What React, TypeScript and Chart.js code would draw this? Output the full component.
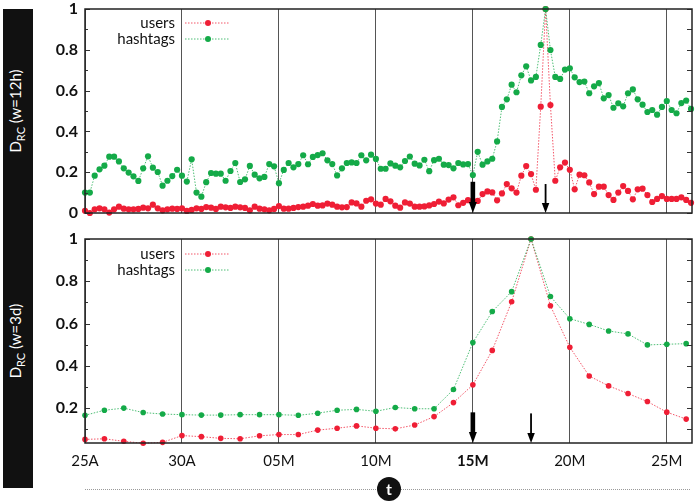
import React, { useEffect, useRef } from "react";
import { Chart, registerables } from "chart.js";
Chart.register(...registerables);

// ---------- data ----------
const dayTicks = [0, 5, 10, 15, 20, 25, 30];
const dayLabels = ["25A", "30A", "05M", "10M", "15M", "20M", "25M"];
const boldDay = 20;
const xMax = 31.3;

const step12h = 0.25; // one sample every 6 hours
const users12h = [
  0.011, 0.0, 0.018, 0.023, 0.018, 0.002, 0.018, 0.031, 0.021, 0.018,
  0.018, 0.02, 0.026, 0.023, 0.041, 0.023, 0.013, 0.018, 0.021, 0.02,
  0.023, 0.01, 0.015, 0.023, 0.02, 0.029, 0.026, 0.02, 0.031, 0.028,
  0.025, 0.031, 0.028, 0.025, 0.013, 0.031, 0.021, 0.018, 0.013, 0.02,
  0.034, 0.021, 0.021, 0.025, 0.029, 0.031, 0.036, 0.044, 0.036, 0.037,
  0.046, 0.041, 0.031, 0.028, 0.029, 0.052, 0.047, 0.031, 0.06, 0.067,
  0.046, 0.041, 0.069, 0.057, 0.036, 0.026, 0.052, 0.046, 0.031, 0.031,
  0.032, 0.037, 0.044, 0.056, 0.047, 0.066, 0.077, 0.038, 0.05, 0.063,
  0.058, 0.059, 0.093, 0.106, 0.101, 0.062, 0.096, 0.142, 0.121, 0.1,
  0.183, 0.23, 0.191, 0.114, 0.521, 1.0, 0.529, 0.158, 0.224, 0.247,
  0.212, 0.116, 0.188, 0.185, 0.15, 0.093, 0.129, 0.129, 0.088, 0.064,
  0.1, 0.132, 0.108, 0.067, 0.116, 0.119, 0.088, 0.054, 0.069, 0.083,
  0.069, 0.069, 0.069, 0.077, 0.064, 0.05,
];
const hashtags12h = [
  0.1, 0.1, 0.183, 0.214, 0.232, 0.276, 0.276, 0.253, 0.219, 0.198,
  0.18, 0.157, 0.219, 0.278, 0.222, 0.201, 0.134, 0.158, 0.181, 0.212,
  0.183, 0.154, 0.263, 0.1, 0.08, 0.151, 0.196, 0.193, 0.193, 0.158,
  0.206, 0.245, 0.152, 0.165, 0.231, 0.188, 0.17, 0.177, 0.24, 0.229,
  0.146, 0.211, 0.245, 0.224, 0.24, 0.283, 0.239, 0.275, 0.284, 0.293,
  0.258, 0.24, 0.184, 0.219, 0.245, 0.248, 0.245, 0.283, 0.258, 0.286,
  0.265, 0.217, 0.217, 0.243, 0.232, 0.224, 0.255, 0.277, 0.242, 0.233,
  0.261, 0.205, 0.259, 0.266, 0.237, 0.235, 0.219, 0.245, 0.238, 0.24,
  0.186, 0.3, 0.237, 0.253, 0.266, 0.351, 0.52, 0.557, 0.629, 0.592,
  0.675, 0.719, 0.65, 0.667, 0.824, 1.0, 0.799, 0.667, 0.657, 0.703,
  0.709, 0.665, 0.642, 0.644, 0.587, 0.621, 0.637, 0.562, 0.578, 0.516,
  0.538, 0.523, 0.587, 0.606, 0.557, 0.531, 0.495, 0.505, 0.482, 0.52,
  0.549, 0.505, 0.489, 0.539, 0.551, 0.51,
];

const step3d = 1; // one sample per day
const users3d = [
  0.052, 0.055, 0.043, 0.034, 0.038, 0.07, 0.065, 0.057, 0.055, 0.069,
  0.075, 0.075, 0.096, 0.105, 0.116, 0.105, 0.102, 0.12, 0.16, 0.226,
  0.31, 0.473, 0.703, 1.0, 0.684, 0.488, 0.352, 0.305, 0.269, 0.231,
  0.181, 0.148,
];
const hashtags3d = [
  0.166, 0.19, 0.2, 0.179, 0.172, 0.169, 0.167, 0.167, 0.169, 0.169,
  0.169, 0.166, 0.176, 0.19, 0.194, 0.185, 0.203, 0.197, 0.197, 0.288,
  0.51, 0.657, 0.751, 1.0, 0.728, 0.623, 0.596, 0.565, 0.551, 0.499,
  0.502, 0.505,
];

const yMajorTop = [0, 0.2, 0.4, 0.6, 0.8, 1];
const yMinorTop = [0.1, 0.3, 0.5, 0.7, 0.9];
const yMajorBottom = [0.2, 0.4, 0.6, 0.8, 1];
const yMinorBottom = [0.1, 0.3, 0.5, 0.7, 0.9];
const yMinBottom = 0.035;

const arrowsTop = [
  { x: 20, from: 0.153, thick: true },
  { x: 23.75, from: 0.142, thick: false },
];
const arrowsBottom = [
  { x: 20, from: 0.18, thick: true },
  { x: 23, from: 0.175, thick: false },
];

// ---------- styles ----------
const RED = "#ef1e35";
const RED_LINE = "rgba(239,30,53,0.75)";
const GREEN = "#14aa48";
const GREEN_LINE = "rgba(20,170,72,0.75)";
const FONT = "Lato, 'Open Sans', sans-serif";

const framePlugin = {
  id: "frame",
  afterDraw(chart: any, _args: any, opts: any) {
    const { ctx, chartArea } = chart;
    const { left, right, top, bottom } = chartArea;
    const x = chart.scales.x;
    const y = chart.scales.y;
    ctx.save();
    const seg = (x1: number, y1: number, x2: number, y2: number) => {
      ctx.beginPath();
      ctx.moveTo(x1, y1);
      ctx.lineTo(x2, y2);
      ctx.stroke();
    };
    ctx.strokeStyle = "#333";
    ctx.lineWidth = 1;
    for (const v of opts.major) {
      const py = Math.round(y.getPixelForValue(v)) + 0.5;
      seg(left, py, left + 5, py);
      seg(right, py, right - 5, py);
    }
    for (const v of opts.minor) {
      if (v < y.min) continue;
      const py = Math.round(y.getPixelForValue(v)) + 0.5;
      seg(left, py, left + 3, py);
      seg(right, py, right - 5, py);
    }
    // frame
    ctx.strokeStyle = "#222";
    ctx.lineWidth = 1.5;
    ctx.strokeRect(left, top, right - left, bottom - top);

    // arrows
    ctx.fillStyle = "#000";
    for (const a of opts.arrows) {
      const px = x.getPixelForValue(a.x);
      const py0 = y.getPixelForValue(a.from);
      const tip = bottom;
      const shaftW = a.thick ? 4.6 : 1.8;
      const headW = a.thick ? 8 : 7.5;
      const headH = a.thick ? 11 : 10;
      ctx.fillRect(px - shaftW / 2, py0, shaftW, tip - headH - py0 + 1);
      ctx.beginPath();
      ctx.moveTo(px - headW / 2, tip - headH);
      ctx.lineTo(px + headW / 2, tip - headH);
      ctx.lineTo(px, tip);
      ctx.closePath();
      ctx.fill();
    }

    // legend (text left of sample)
    const ds = chart.data.datasets;
    const rows = [ds.find((d: any) => d.label === "users"), ds.find((d: any) => d.label === "hashtags")];
    ctx.font = `15px ${FONT}`;
    ctx.textAlign = "right";
    ctx.textBaseline = "middle";
    rows.forEach((d: any, i: number) => {
      const ly = top + opts.legendTop + i * 16;
      ctx.fillStyle = "#111";
      ctx.fillText(d.label, left + 90, ly);
      ctx.strokeStyle = d.borderColor;
      ctx.lineWidth = 1;
      ctx.setLineDash([1.5, 1.5]);
      seg(left + 100, ly, left + 145, ly);
      ctx.setLineDash([]);
      ctx.fillStyle = d.pointBackgroundColor;
      ctx.beginPath();
      ctx.arc(left + 123, ly, 3, 0, Math.PI * 2);
      ctx.fill();
    });
    ctx.restore();
  },
};

function makeConfig(p: {
  users: number[];
  hashtags: number[];
  step: number;
  yMin: number;
  major: number[];
  minor: number[];
  arrows: any[];
  padTop: number;
  xHeight: number;
  showLabels: boolean;
  radius: number;
  legendTop: number;
}) {
  const ds = (label: string, vals: number[], col: string, line: string, order: number) => ({
    label,
    data: vals.map((v, i) => ({ x: i * p.step, y: v })),
    borderColor: line,
    backgroundColor: col,
    pointBackgroundColor: col,
    pointBorderWidth: 0,
    pointRadius: p.radius,
    borderWidth: 1,
    borderDash: [1.5, 1.5],
    tension: 0,
    clip: false,
    order,
  });
  return {
    type: "line",
    data: {
      datasets: [
        ds("users", p.users, RED, RED_LINE, 1),
        ds("hashtags", p.hashtags, GREEN, GREEN_LINE, 0),
      ],
    },
    options: {
      animation: false,
      responsive: false,
      maintainAspectRatio: false,
      events: [],
      layout: { padding: { top: p.padTop, right: 5, left: 0, bottom: 0 } },
      plugins: {
        legend: { display: false },
        tooltip: { enabled: false },
        frame: { major: p.major, minor: p.minor, arrows: p.arrows, legendTop: p.legendTop },
      },
      scales: {
        x: {
          type: "linear",
          min: 0,
          max: xMax,
          afterBuildTicks: (s: any) => {
            s.ticks = dayTicks.map((v) => ({ value: v }));
          },
          afterFit: (s: any) => {
            s.height = p.xHeight;
            s.paddingLeft = 0;
            s.paddingRight = 0;
            s.paddingTop = 0;
            s.paddingBottom = 0;
          },
          grid: { color: "#555", lineWidth: 1, drawTicks: false },
          border: { display: false },
          ticks: {
            display: p.showLabels,
            padding: 9,
            color: "#111",
            maxRotation: 0,
            autoSkip: false,
            font: (c: any) => ({
              family: FONT,
              size: 15,
              weight: c.tick && c.tick.value === boldDay ? "bold" : "normal",
            }),
            callback: (v: any) => dayLabels[dayTicks.indexOf(v)] ?? "",
          },
        },
        y: {
          min: p.yMin,
          max: 1,
          afterBuildTicks: (s: any) => {
            s.ticks = p.major.map((v) => ({ value: v }));
          },
          afterFit: (s: any) => {
            s.width = 85;
            s.paddingLeft = 0;
            s.paddingRight = 0;
            s.paddingTop = 0;
            s.paddingBottom = 0;
          },
          grid: { display: false, drawTicks: false },
          border: { display: false },
          ticks: {
            padding: 7,
            color: "#111",
            font: { family: FONT, size: 16, weight: "bold" },
            callback: (v: any) => String(v),
          },
        },
      },
    },
    plugins: [framePlugin],
  };
}

export default function App() {
  const topRef = useRef<HTMLCanvasElement>(null);
  const botRef = useRef<HTMLCanvasElement>(null);

  useEffect(() => {
    const c1 = new Chart(
      topRef.current as HTMLCanvasElement,
      makeConfig({
        users: users12h,
        hashtags: hashtags12h,
        step: step12h,
        yMin: 0,
        major: yMajorTop,
        minor: yMinorTop,
        arrows: arrowsTop,
        padTop: 9,
        xHeight: 13,
        showLabels: false,
        radius: 3.1,
        legendTop: 14,
      }) as any
    );
    const c2 = new Chart(
      botRef.current as HTMLCanvasElement,
      makeConfig({
        users: users3d,
        hashtags: hashtags3d,
        step: step3d,
        yMin: yMinBottom,
        major: yMajorBottom,
        minor: yMinorBottom,
        arrows: arrowsBottom,
        padTop: 11,
        xHeight: 35,
        showLabels: true,
        radius: 2.8,
        legendTop: 15,
      }) as any
    );
    return () => {
      c1.destroy();
      c2.destroy();
    };
  }, []);

  const labelStyle: React.CSSProperties = {
    position: "absolute",
    left: 15,
    transform: "translate(-50%, -50%) rotate(-90deg)",
    whiteSpace: "nowrap",
    color: "#fff",
    fontFamily: FONT,
    fontSize: 15,
    lineHeight: "18px",
  };

  return (
    <div style={{ position: "absolute", left: 0, top: 0, width: 697, height: 504, background: "#fff", overflow: "hidden" }}>
      <canvas ref={topRef} width={697} height={226} style={{ position: "absolute", left: 0, top: 0, width: 697, height: 226 }} />
      <canvas ref={botRef} width={697} height={250} style={{ position: "absolute", left: 0, top: 228, width: 697, height: 250 }} />
      <div style={{ position: "absolute", left: 3, top: 9, width: 30, height: 479, background: "#111" }}>
        <div style={{ ...labelStyle, top: 102 }}>
          D<sub style={{ fontSize: 11 }}>RC</sub> (w=12h)
        </div>
        <div style={{ ...labelStyle, top: 332 }}>
          D<sub style={{ fontSize: 11 }}>RC</sub> (w=3d)
        </div>
      </div>
      <div style={{ position: "absolute", left: 85, top: 489, width: 605, height: 0, borderTop: "1px dotted #9a9a9a" }} />
      <div
        style={{
          position: "absolute",
          left: 377,
          top: 477,
          width: 24,
          height: 24,
          borderRadius: "50%",
          background: "#111",
          color: "#fff",
          fontFamily: FONT,
          fontWeight: "bold",
          fontSize: 16,
          lineHeight: "24px",
          textAlign: "center",
        }}
      >
        t
      </div>
    </div>
  );
}
